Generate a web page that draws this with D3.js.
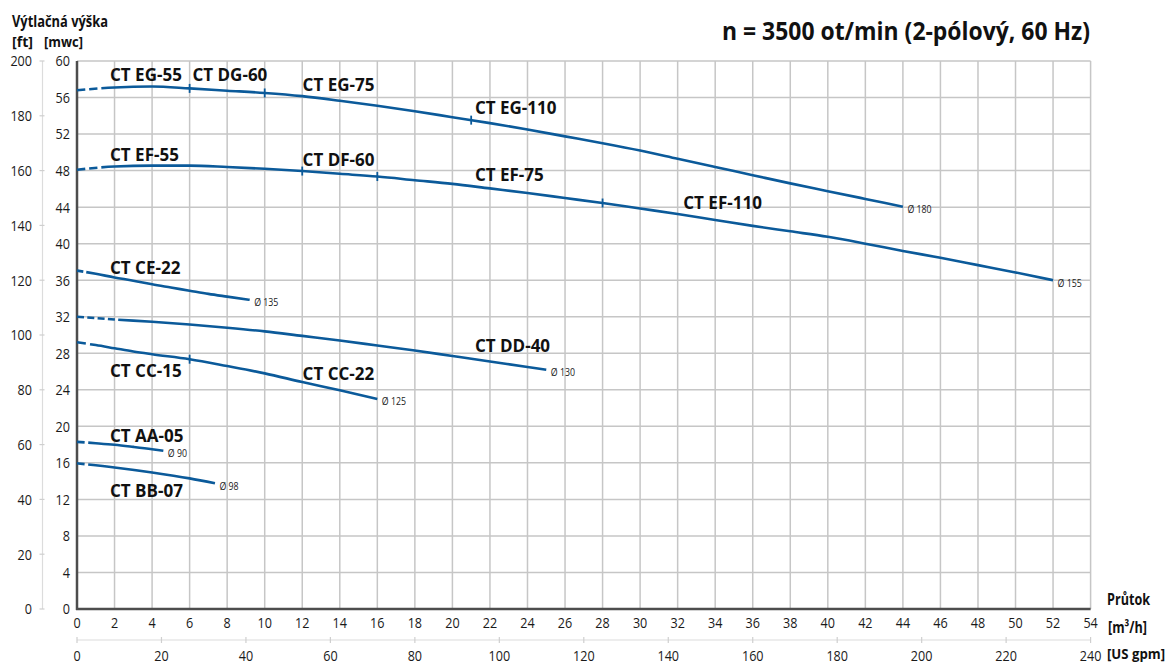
<!DOCTYPE html>
<html>
<head>
<meta charset="utf-8">
<script src="https://cdn.jsdelivr.net/npm/d3@7"></script>
<style>
  html, body { margin: 0; padding: 0; background: #fff; }
  svg { display: block; }
</style>
</head>
<body>
<svg id="chart" width="1168" height="666"></svg>
<script>
// Axis tick labels
const flowTicksM3h = [0,2,4,6,8,10,12,14,16,18,20,22,24,26,28,30,32,34,36,38,40,42,44,46,48,50,52,54];
const flowTicksGpm = [0,20,40,60,80,100,120,140,160,180,200,220,240];
const headTicksMwc = [0,4,8,12,16,20,24,28,32,36,40,44,48,52,56,60];
const headTicksFt  = [0,20,40,60,80,100,120,140,160,180,200];

// Pump curves: flow [m3/h] and head [mwc] per impeller diameter
const flow180 = [0,2,4,6,8,10,12,14,16,18,20,22,24,26,28,30,32,34,36,38,40,42,44];
const head180 = [56.8,57.1,57.2,57.0,56.75,56.5,56.15,55.65,55.1,54.5,53.85,53.2,52.5,51.75,51.0,50.2,49.3,48.4,47.5,46.6,45.75,44.9,44.05];

const flow155 = [0,2,4,6,8,10,12,14,16,18,20,22,24,26,28,30,32,34,36,38,40,42,44,46,48,50,52];
const head155 = [48.1,48.45,48.55,48.55,48.4,48.2,47.95,47.65,47.35,46.95,46.55,46.05,45.55,45.0,44.45,43.85,43.25,42.6,41.95,41.35,40.75,40.0,39.2,38.45,37.65,36.85,36.0];

const flow135 = [0,1,2,3,4,5,6,7,8,9.2];
const head135 = [37.05,36.7,36.3,35.95,35.55,35.2,34.85,34.5,34.2,33.85];

const flow130 = [0,2,4,6,8,10,12,14,16,18,20,22,24,25];
const head130 = [32.0,31.7,31.45,31.15,30.8,30.4,29.9,29.4,28.85,28.3,27.7,27.1,26.5,26.2];

const flow125 = [0,1,2,3,4,6,8,10,12,14,16];
const head125 = [29.2,28.9,28.55,28.2,27.9,27.35,26.6,25.8,24.85,23.95,23.0];

const flow90 = [0,1,2,3,4,4.6];
const head90 = [18.3,18.15,17.98,17.75,17.5,17.33];

const flow98 = [0,2,4,6,7.35];
const head98 = [15.95,15.5,14.95,14.3,13.76];

const diameters  = ["Ø 180","Ø 155","Ø 135","Ø 130","Ø 125","Ø 90","Ø 98"];
const curveFlows = [flow180, flow155, flow135, flow130, flow125, flow90, flow98];
const curveHeads = [head180, head155, head135, head130, head125, head90, head98];
// flow up to which each curve is drawn dashed (outside the operating range)
const dashedUntil = [1.3, 1.3, 0.5, 2.2, 0.7, 0.6, 0.6];
// model boundaries marked on the curves (flow values)
const boundaryFlows = [[6,10,21],[12,16,28],[],[],[6],[],[]];

// Model names with their anchor point (flow, head)
const modelNames = ["CT EG-55","CT DG-60","CT EG-75","CT EG-110","CT EF-55","CT DF-60","CT EF-75","CT EF-110",
                    "CT CE-22","CT DD-40","CT CC-15","CT CC-22","CT AA-05","CT BB-07"];
const modelFlow  = [1.76,6.15,12.02,21.2,1.76,12.02,21.2,32.3,1.76,21.2,1.76,12.02,1.76,1.76];
const modelHead  = [57.8,57.8,56.75,54.2,49.05,48.55,46.9,43.85,36.68,28.1,25.44,25.07,18.3,12.23];

const titleText = "n = 3500 ot/min (2-pólový, 60 Hz)";

const svg = d3.select("#chart");
const plot = { left: 77, right: 1090.6, top: 61, bottom: 609 };

const x = d3.scaleLinear().domain([0, 54]).range([plot.left, plot.right]);
const xGpm = d3.scaleLinear().domain([0, 240]).range([plot.left, plot.right]);
const y = d3.scaleLinear().domain([0, 60]).range([plot.bottom, plot.top]);
const yFt = d3.scaleLinear().domain([0, 200]).range([plot.bottom, plot.top]);

const baseFont = "'Open Sans', 'Noto Sans', sans-serif";
const blue = "#0b5a9a";
const gridColor = "#c6c6c6";

// Narrow a text horizontally to emulate a condensed face
function condense(sel, factor) {
  sel.each(function () {
    const w = this.getComputedTextLength();
    d3.select(this).attr("textLength", (w * factor).toFixed(2)).attr("lengthAdjust", "spacingAndGlyphs");
  });
  return sel;
}
function fitWidth(sel, width) {
  return sel.attr("textLength", width).attr("lengthAdjust", "spacingAndGlyphs");
}

// Grid
const grid = svg.append("g");
grid.selectAll("line.v").data(flowTicksM3h).join("line")
  .attr("x1", d => x(d)).attr("x2", d => x(d))
  .attr("y1", plot.top).attr("y2", plot.bottom)
  .attr("stroke", gridColor).attr("stroke-width", 1.5);
grid.selectAll("line.h").data(headTicksMwc).join("line")
  .attr("x1", plot.left).attr("x2", plot.right)
  .attr("y1", d => y(d)).attr("y2", d => y(d))
  .attr("stroke", gridColor).attr("stroke-width", 1.5);

// Main axes frame (left and bottom)
svg.append("line").attr("x1", plot.left).attr("x2", plot.left)
  .attr("y1", plot.top).attr("y2", plot.bottom + 1)
  .attr("stroke", "#4d4d4d").attr("stroke-width", 2.5);
svg.append("line").attr("x1", plot.left - 1).attr("x2", plot.right)
  .attr("y1", plot.bottom).attr("y2", plot.bottom)
  .attr("stroke", "#4d4d4d").attr("stroke-width", 2.5);

function tickText(sel) {
  return sel.attr("font-family", baseFont).attr("font-size", 15).attr("fill", "#1a1a1a");
}
const tickSqueeze = 0.84;

// mwc labels
condense(tickText(svg.append("g").selectAll("text").data(headTicksMwc).join("text")
  .attr("x", plot.left - 7).attr("y", d => y(d)).attr("dy", "0.36em")
  .attr("text-anchor", "end").text(d => d)), tickSqueeze);

// ft axis
const ftAxisX = 42.5;
svg.append("line").attr("x1", ftAxisX).attr("x2", ftAxisX)
  .attr("y1", yFt(200)).attr("y2", yFt(0))
  .attr("stroke", "#dcdcdc").attr("stroke-width", 1.2);
svg.append("g").selectAll("line").data(headTicksFt).join("line")
  .attr("x1", ftAxisX - 3).attr("x2", ftAxisX + 2)
  .attr("y1", d => yFt(d)).attr("y2", d => yFt(d))
  .attr("stroke", "#cfcfcf").attr("stroke-width", 1.2);
condense(tickText(svg.append("g").selectAll("text").data(headTicksFt).join("text")
  .attr("x", 32).attr("y", d => yFt(d)).attr("dy", "0.36em")
  .attr("text-anchor", "end").text(d => d)), tickSqueeze);

// m3/h labels
condense(tickText(svg.append("g").selectAll("text").data(flowTicksM3h).join("text")
  .attr("x", d => x(d)).attr("y", plot.bottom + 19)
  .attr("text-anchor", "middle").text(d => d)), tickSqueeze);

// gpm axis
const gpmAxisY = 640;
svg.append("line").attr("x1", xGpm(0)).attr("x2", xGpm(240))
  .attr("y1", gpmAxisY).attr("y2", gpmAxisY)
  .attr("stroke", "#dcdcdc").attr("stroke-width", 1.2);
svg.append("g").selectAll("line").data(flowTicksGpm).join("line")
  .attr("x1", d => xGpm(d)).attr("x2", d => xGpm(d))
  .attr("y1", gpmAxisY - 3).attr("y2", gpmAxisY + 3)
  .attr("stroke", "#cfcfcf").attr("stroke-width", 1.2);
condense(tickText(svg.append("g").selectAll("text").data(flowTicksGpm).join("text")
  .attr("x", d => xGpm(d)).attr("y", gpmAxisY + 21)
  .attr("text-anchor", "middle").text(d => d)), tickSqueeze);

// Axis titles
function titleFont(sel, size) {
  return sel.attr("font-family", baseFont).attr("font-weight", "bold").attr("font-size", size || 16).attr("fill", "#111");
}
fitWidth(titleFont(svg.append("text").attr("x", 12).attr("y", 27).text("Výtlačná výška")), 96);
fitWidth(titleFont(svg.append("text").attr("x", 12).attr("y", 47).text("[ft]"), 15), 21);
fitWidth(titleFont(svg.append("text").attr("x", 44).attr("y", 47).text("[mwc]"), 15), 39);
fitWidth(titleFont(svg.append("text").attr("x", 1107).attr("y", 605).text("Průtok")), 43);
fitWidth(titleFont(svg.append("text").attr("x", 1108).attr("y", 633).text("[m³/h]")), 39);
fitWidth(titleFont(svg.append("text").attr("x", 1107).attr("y", 659).text("[US gpm]"), 14), 58);

// Chart title
fitWidth(svg.append("text").attr("x", 722).attr("y", 40)
  .attr("font-family", baseFont).attr("font-weight", "bold").attr("font-size", 25)
  .attr("fill", "#111").text(titleText), 368);

function interp(xs, ys, q) {
  for (let k = 0; k < xs.length - 1; k++) {
    if (q >= xs[k] && q <= xs[k + 1]) {
      const t = (q - xs[k]) / (xs[k + 1] - xs[k]);
      return ys[k] + t * (ys[k + 1] - ys[k]);
    }
  }
  return ys[ys.length - 1];
}

// Curves
const line = d3.line().x(d => x(d[0])).y(d => y(d[1])).curve(d3.curveMonotoneX);
const curvesG = svg.append("g");

curveFlows.forEach((fl, i) => {
  const pts = fl.map((q, j) => [q, curveHeads[i][j]]);
  const path = curvesG.append("path").datum(pts)
    .attr("d", line).attr("fill", "none")
    .attr("stroke", blue).attr("stroke-width", 2.6);
  // dashed lead-in up to the start of the operating range
  const leadPx = x(dashedUntil[i]) - x(0);
  const total = path.node().getTotalLength();
  const nd = Math.max(1, Math.round(leadPx / 11));
  const seg = leadPx / nd;
  const pattern = [];
  for (let k = 0; k < nd; k++) pattern.push(seg * 0.68, seg * 0.32);
  pattern.push(total + 10, 0);
  path.attr("stroke-dasharray", pattern.join(","));

  // boundary ticks between models
  boundaryFlows[i].forEach(q => {
    const hq = interp(fl, curveHeads[i], q);
    curvesG.append("line")
      .attr("x1", x(q)).attr("x2", x(q))
      .attr("y1", y(hq) - 4.5).attr("y2", y(hq) + 4.5)
      .attr("stroke", blue).attr("stroke-width", 1.8);
  });

  // diameter label at the curve end
  const last = pts[pts.length - 1];
  condense(svg.append("text")
    .attr("x", x(last[0]) + 4.5).attr("y", y(last[1]) + 2.5).attr("dy", "0.36em")
    .attr("font-family", baseFont).attr("font-size", 11).attr("fill", "#222")
    .text(diameters[i]), 0.8);
});

// Model labels
svg.append("g").selectAll("text").data(modelNames).join("text")
  .attr("x", (d, i) => x(modelFlow[i]))
  .attr("y", (d, i) => y(modelHead[i]))
  .attr("font-family", baseFont).attr("font-weight", "bold").attr("font-size", 17)
  .attr("fill", "#111")
  .text(d => d);
</script>
</body>
</html>
